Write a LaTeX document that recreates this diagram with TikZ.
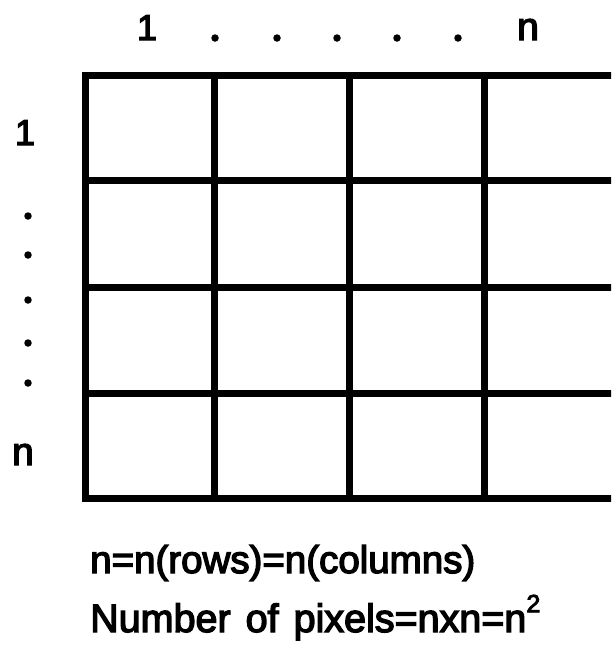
\documentclass[tikz,border=0pt]{standalone}
\usepackage{fontspec}
\setmainfont{Liberation Sans}[FakeBold=3.5]
\begin{document}
\begin{tikzpicture}[x=1pt,y=-1pt,
  gridline/.style={line width=7pt, line join=miter, line cap=rect},
  lbl/.style={inner sep=0pt, anchor=base, font=\fontsize{36}{36}\selectfont},
  nlbl/.style={inner sep=0pt, anchor=base, font=\fontsize{39}{39}\selectfont},
  dotmark/.style={circle, fill=black, inner sep=0pt, minimum size=7.5pt},
  caption/.style={inner sep=0pt, anchor=base west, font=\fontsize{38.5}{38.5}\selectfont}]
\useasboundingbox (0,0) rectangle (611,659);
\fill[white] (0,0) rectangle (611,659);
\begin{scope}
\clip (0,0) rectangle (611,659);
% horizontal lines
\foreach \y in {75,180,287,393,498}
  \draw[gridline] (85,\y) -- (640,\y);
% vertical lines
\foreach \x in {85,214,349,484}
  \draw[gridline] (\x,75) -- (\x,498);
\end{scope}
% top labels
\node[lbl] (t1) at (147,40) {1};
\node[dotmark] (td1) at (215,38) {};
\node[dotmark] (td2) at (277,38) {};
\node[dotmark] (td3) at (337,38) {};
\node[dotmark] (td4) at (397,38) {};
\node[dotmark] (td5) at (458,38) {};
\node[nlbl] (tn) at (528,40) {n};
% left labels
\node[lbl] (l1) at (25,145) {1};
\node[dotmark] (ld1) at (28,216) {};
\node[dotmark] (ld2) at (28,255) {};
\node[dotmark] (ld3) at (28,300) {};
\node[dotmark] (ld4) at (28,343) {};
\node[dotmark] (ld5) at (28,383) {};
\node[nlbl] (ln) at (23,465) {n};
% captions
\node[caption] (c1) at (90,573) {n=n(rows)=n(columns)};
\node[caption, font=\fontsize{39.5}{39.5}\selectfont] (c2) at (90,632) {Number\hspace{0.38em}of\hspace{0.38em}pixels=nxn=n\raisebox{0.5em}{\fontsize{25}{25}\selectfont 2}};
\end{tikzpicture}
\end{document}
